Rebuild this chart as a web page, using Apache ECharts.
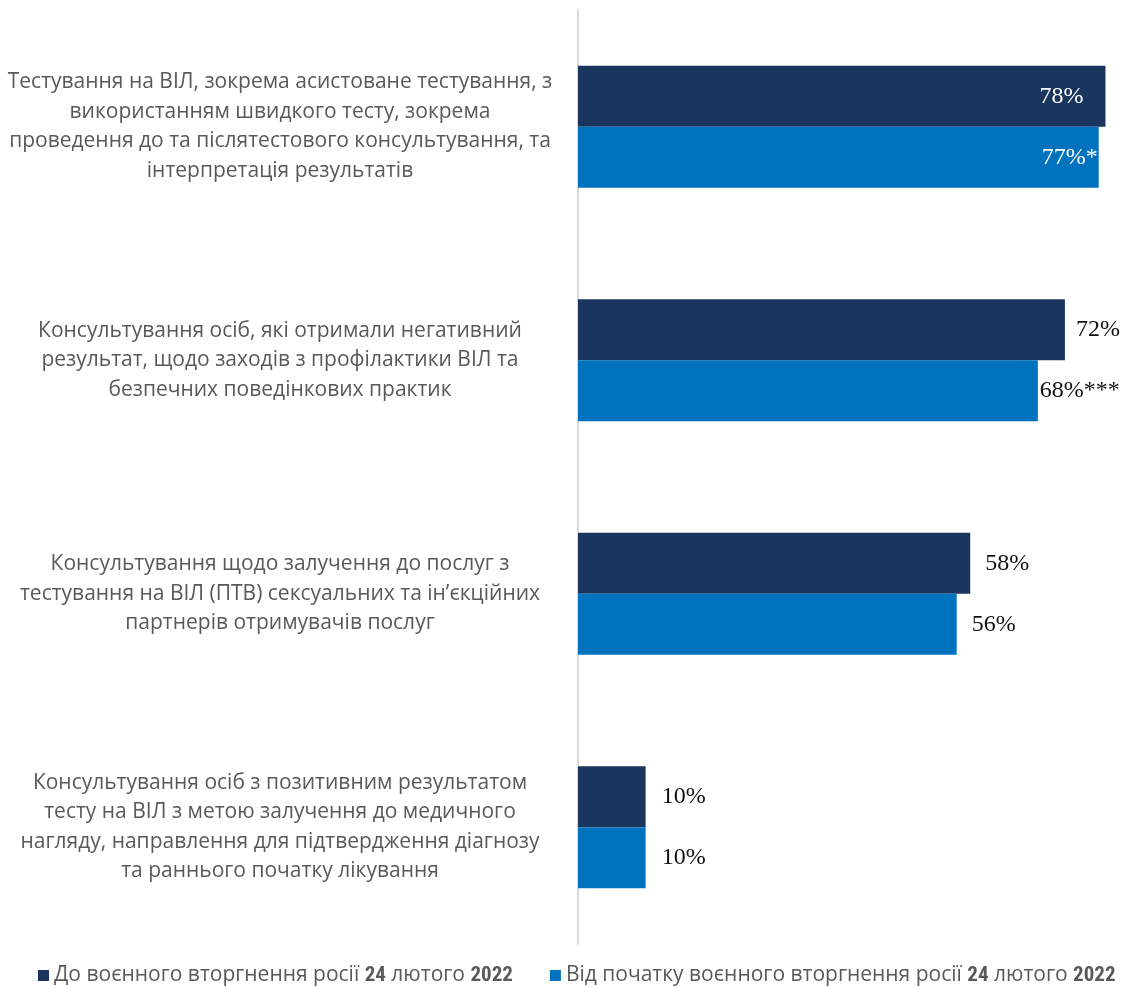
<!DOCTYPE html>
<html>
<head>
<meta charset="utf-8">
<script src="https://cdn.jsdelivr.net/npm/echarts@6/dist/echarts.min.js"></script>
<style>
  html, body { margin: 0; padding: 0; background: #fff; }
  #chart { width: 1121px; height: 987px; }
</style>
</head>
<body>
<div id="chart"></div>
<script>
// Service categories (line breaks as laid out in the axis labels)
const categories = [
  'Тестування на ВІЛ, зокрема асистоване тестування, з\nвикористанням швидкого тесту, зокрема\nпроведення до та післятестового консультування, та\nінтерпретація результатів',
  'Консультування осіб, які отримали негативний\nрезультат, щодо заходів з профілактики ВІЛ та\nбезпечних поведінкових практик',
  'Консультування щодо залучення до послуг з\nтестування на ВІЛ (ПТВ) сексуальних та ін’єкційних\nпартнерів отримувачів послуг',
  'Консультування осіб з позитивним результатом\nтесту на ВІЛ з метою залучення до медичного\nнагляду, направлення для підтвердження діагнозу\nта раннього початку лікування'
];
const seriesNames = [
  'До воєнного вторгнення росії 24 лютого 2022',
  'Від початку воєнного вторгнення росії 24 лютого 2022'
];
const beforeValues = [78, 72, 58, 10];
const afterValues = [77, 68, 56, 10];
const afterMarks = ['*', '***', '', ''];

const navy = '#1b365e';
const blue = '#0072be';
const labelFont = '"Liberation Serif", "DejaVu Serif", serif';
const textFont = '"Open Sans", "Noto Sans", sans-serif';

// First group carries its labels inside the bars, the rest sit to the right
function barLabel(i, distance) {
  if (i === 0) {
    return { position: 'insideRight', color: '#fff', distance: distance };
  }
  return { position: 'right', color: '#111', distance: distance };
}

const beforeDist = [22, 11, 15, 16];
const afterDist = [1, 2, 15, 16];

const chart = echarts.init(document.getElementById('chart'), null, { renderer: 'canvas' });
chart.setOption({
  animation: false,
  backgroundColor: '#fff',
  grid: { left: 578, right: 2, top: 10, bottom: 43, containLabel: false },
  xAxis: {
    type: 'value', min: 0, max: 80,
    show: false
  },
  yAxis: {
    type: 'category',
    data: categories,
    inverse: true,
    axisLine: { show: true, lineStyle: { color: '#d9d9d9', width: 2 } },
    axisTick: { show: false },
    axisLabel: {
      margin: 298,
      align: 'center',
      color: '#595959',
      fontFamily: textFont,
      fontSize: 21,
      lineHeight: 29.5
    }
  },
  legend: {
    left: 33, top: 960,
    icon: 'rect', itemWidth: 11, itemHeight: 11, itemGap: 37, itemPadding: [0, 0, 0, 0],
    data: seriesNames,
    formatter: function (name) { return name.replace(/(\d+)/g, '{b|$1}'); },
    textStyle: {
      color: '#595959', fontFamily: textFont, fontSize: 21,
      rich: {
        b: { color: '#595959', fontFamily: '"Liberation Sans Narrow", "Roboto Condensed", Roboto, sans-serif', fontWeight: 'bold', fontSize: 21 }
      }
    }
  },
  series: [
    {
      name: seriesNames[0], type: 'bar', barWidth: 61, barGap: '0%',
      itemStyle: { color: navy },
      label: { show: true, fontFamily: labelFont, fontSize: 24, formatter: p => p.value + '%' },
      data: beforeValues.map((v, i) => ({ value: v, label: barLabel(i, beforeDist[i]) }))
    },
    {
      name: seriesNames[1], type: 'bar', barWidth: 61, barGap: '0%',
      itemStyle: { color: blue },
      label: { show: true, fontFamily: labelFont, fontSize: 24, formatter: p => p.value + '%' + afterMarks[p.dataIndex] },
      data: afterValues.map((v, i) => ({ value: v, label: barLabel(i, afterDist[i]) }))
    }
  ]
});
</script>
</body>
</html>
